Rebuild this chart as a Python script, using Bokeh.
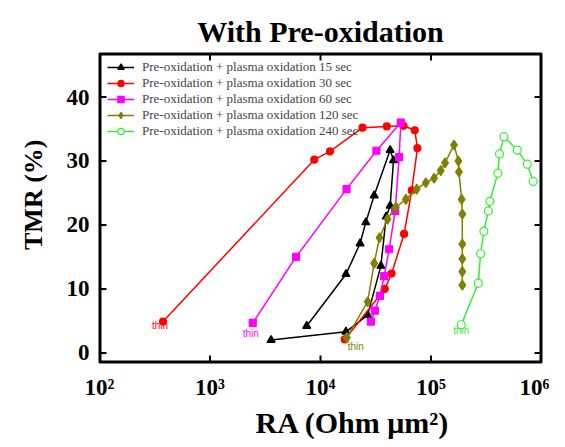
from bokeh.plotting import figure
from bokeh.models import Range1d, Legend, LegendItem, Title, FixedTicker
from bokeh.core.properties import value
from bokeh.embed import file_html
from bokeh.resources import INLINE

# ---- data ----
x_ticks = [100, 1000, 10000, 100000, 1000000]
x_tick_labels = ["10²", "10³", "10⁴", "10⁵", "10⁶"]
y_ticks = [0, 10, 20, 30, 40]
x_lo, x_hi = 100, 1000000
y_lo, y_hi = -1.5, 46.8

labels = [
    "Pre-oxidation + plasma oxidation 15 sec",
    "Pre-oxidation + plasma oxidation 30 sec",
    "Pre-oxidation + plasma oxidation 60 sec",
    "Pre-oxidation + plasma oxidation 120 sec",
    "Pre-oxidation + plasma oxidation 240 sec",
]

ra_15 = [3570, 17000, 26700, 35200, 39300, 42700, 45800, 42700, 30600, 25700, 22800, 17000, 7500]
tmr_15 = [2.0, 3.3, 5.9, 13.6, 21.3, 23.0, 30.1, 31.7, 24.6, 20.4, 17.1, 12.3, 4.2]

ra_30 = [376, 8790, 12200, 24000, 39800, 56400, 71300, 75400, 67000, 57100, 44000, 38200, 16600]
tmr_30 = [4.9, 30.2, 31.5, 35.2, 35.4, 35.5, 34.8, 32.0, 25.4, 18.6, 12.4, 10.0, 2.1]

ra_60 = [2440, 6010, 17200, 32100, 53300, 51500, 47400, 41800, 37700, 34500, 31000, 28600]
tmr_60 = [4.7, 15.0, 25.6, 31.6, 36.0, 30.6, 22.2, 16.2, 12.0, 8.9, 6.6, 4.9]

ra_120 = [17300, 26700, 30600, 34200, 40400, 48100, 59200, 74300, 89700, 106600, 122500, 134000,
          161500, 177000, 179000, 189500, 192000, 192000, 192000, 192000, 192000]
tmr_120 = [2.4, 8.0, 14.0, 18.0, 20.9, 22.8, 24.0, 25.6, 26.6, 27.3, 28.5, 29.7,
           32.5, 30.0, 28.3, 24.0, 21.7, 17.0, 14.7, 12.7, 10.6]

ra_240 = [188000, 268000, 281000, 301000, 330000, 341000, 403000, 417000, 457000, 603000, 743000, 841000]
tmr_240 = [4.4, 10.9, 15.5, 19.0, 22.2, 23.7, 28.1, 31.1, 33.8, 31.7, 29.5, 26.8]

thin_text = "thin"

# ---- figure ----
SERIF = "Liberation Serif"
p = figure(width=549, height=445, x_axis_type="log",
           x_range=Range1d(x_lo, x_hi), y_range=Range1d(y_lo, y_hi),
           output_backend="svg", toolbar_location=None,
           min_border_left=98, min_border_right=8, min_border_top=53, min_border_bottom=83)

p.title.text = "With Pre-oxidation"
p.title.align = "center"
p.title.text_font = SERIF
p.title.text_font_style = "bold"
p.title.text_font_size = "30px"
p.title.text_color = "black"
p.title.standoff = 12

p.xgrid.visible = False
p.ygrid.visible = False
p.outline_line_color = "black"
p.outline_line_width = 2


def style_axis(ax):
    ax.axis_line_color = None
    ax.major_tick_line_color = None
    ax.minor_tick_line_color = None
    ax.major_tick_in = 0
    ax.major_tick_out = 0
    ax.major_label_text_font = SERIF
    ax.major_label_text_font_style = "bold"
    ax.major_label_text_color = "black"
    ax.major_label_text_font_size = "23px"


xax = p.xaxis[0]
xax.ticker = FixedTicker(ticks=x_ticks, minor_ticks=[])
xax.major_label_overrides = {t: l for t, l in zip(x_ticks, x_tick_labels)}
style_axis(xax)
xax.major_label_standoff = 12

yax = p.yaxis[0]
yax.ticker = FixedTicker(ticks=y_ticks, minor_ticks=[])
style_axis(yax)
yax.major_label_standoff = 10

xlabel = Title(text="RA (Ohm μm²)", align="left", offset=156, standoff=2,
               text_font=SERIF, text_font_style="bold", text_font_size="30px",
               text_color="black")
p.add_layout(xlabel, "below")

ylabel = Title(text="TMR (%)", align="right", offset=86, standoff=32,
               text_font=SERIF, text_font_style="bold", text_font_size="26px",
               text_color="black")
p.add_layout(ylabel, "left")

# ---- frame and inward ticks (derived from the ranges and tick lists), drawn as lines ----
NAN = float("nan")
tick_len_y = 1.1      # in TMR units (~7 px)
tick_fac_x = 1.157    # multiplicative length on the log axis (~7 px)

p.line([x_lo, x_hi, x_hi, x_lo, x_lo], [y_lo, y_lo, y_hi, y_hi, y_lo],
       line_color="black", line_width=4)

tick_xs, tick_ys = [], []
for t in x_ticks[1:-1]:
    tick_xs += [t, t, NAN, t, t, NAN]
    tick_ys += [y_lo, y_lo + tick_len_y, NAN, y_hi, y_hi - tick_len_y, NAN]
for v in y_ticks:
    tick_xs += [x_lo, x_lo * tick_fac_x, NAN, x_hi, x_hi / tick_fac_x, NAN]
    tick_ys += [v, v, NAN, v, v, NAN]
p.line(tick_xs, tick_ys, line_color="black", line_width=2)

# ---- series ----
series = [
    (ra_15, tmr_15, "black", "triangle", 8, "black", None),
    (ra_30, tmr_30, "red", "circle", 7, "red", (-3, 4)),
    (ra_60, tmr_60, "#ff00ff", "square", 7, "#ff00ff", (-2, 11)),
    (ra_120, tmr_120, "#808000", "diamond", 10, "#808000", (9, 9)),
    (ra_240, tmr_240, "#33ee33", "circle", 8, "white", (0, 6)),
]

items = []
for (xs, ys, col, mk, sz, fill, thin_off), lab in zip(series, labels):
    lr = p.line(xs, ys, line_color=col, line_width=1.5)
    if thin_off is not None:
        p.text(x=[xs[0]], y=[ys[0]], text=[thin_text], x_offset=thin_off[0], y_offset=thin_off[1],
               text_font=value("Liberation Sans"), text_font_size="10px", text_color=col,
               text_align="center", text_baseline="middle")
    sr = p.scatter(xs, ys, marker=mk, size=sz, line_color=col, fill_color=fill, line_width=1.2)
    items.append(LegendItem(label=lab, renderers=[lr, sr]))

legend = Legend(items=items, location=(8, 223))
legend.margin = 0
legend.padding = 2
legend.spacing = 0
legend.glyph_width = 27
legend.glyph_height = 16
legend.label_standoff = 8
legend.label_text_font = SERIF
legend.label_text_font_size = "13px"
legend.label_height = 16
legend.border_line_color = None
legend.background_fill_alpha = 0
p.add_layout(legend)

open("out.html", "w").write(file_html(p, INLINE))
